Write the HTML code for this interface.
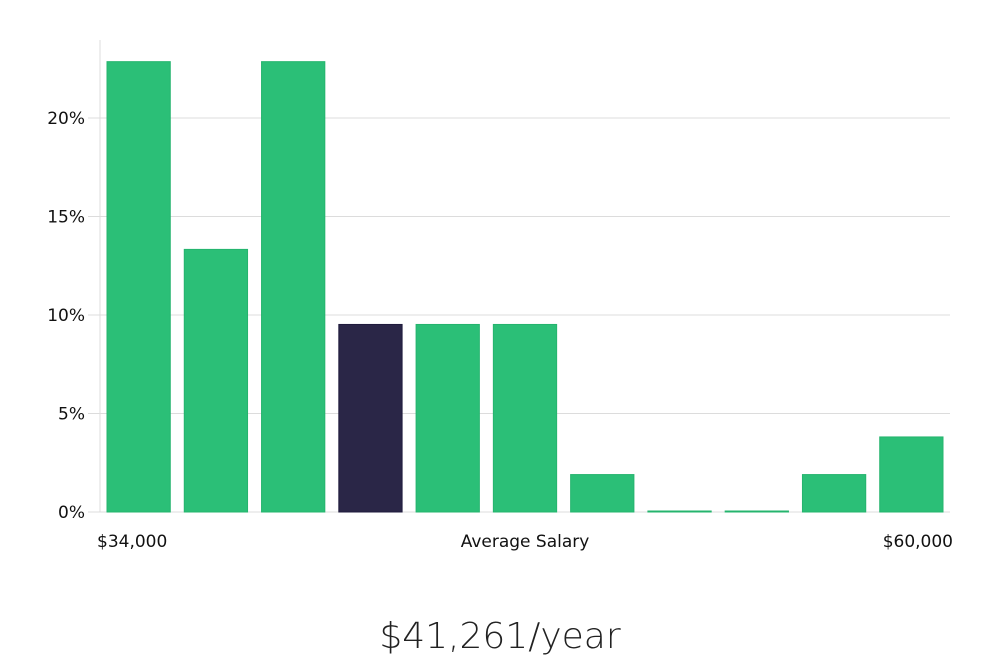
<!DOCTYPE html>
<html><head><meta charset="utf-8"><style>
html,body{margin:0;padding:0;background:#fff;}
svg text{font-family:"DejaVu Sans","Liberation Sans",sans-serif;}
</style></head><body>
<svg width="1000" height="660" viewBox="0 0 1000 660">
<g id="grid"></g>
<g id="bars"></g>
<g id="axes"></g>
<text x="500" y="648" text-anchor="middle" font-size="36" fill="#222" font-weight="300">$41,261/year</text>
</svg>
<script>
const categories = ["b1","b2","b3","b4","b5","b6","b7","b8","b9","b10","b11"];
const values = [22.86,13.33,22.86,9.52,9.52,9.52,1.9,0,0,1.9,3.81];
const highlight = [false,false,false,true,false,false,false,false,false,false,false];
const yTicks = [0,5,10,15,20];
const yTickLabels = ["0%","5%","10%","15%","20%"];
const xLabels = ["$34,000","Average Salary","$60,000"];
const NS="http://www.w3.org/2000/svg";
const L=100,R=950,B=512,T=40,pxPer5=98.5;
function y(v){return B - v/5*pxPer5;}
const band=(R-L)/categories.length;
function x(i){return L+i*band;}
function mk(tag,attrs,parent){const e=document.createElementNS(NS,tag);for(const k in attrs)e.setAttribute(k,attrs[k]);parent.appendChild(e);return e;}
const grid=document.getElementById('grid'),bars=document.getElementById('bars'),axes=document.getElementById('axes');
yTicks.forEach((t,i)=>{
  const g=mk('line',{x1:88,x2:R,y1:y(t),y2:y(t),stroke:'#dcdcdc','stroke-width':1},grid);
  
  
  const tx=mk('text',{x:85,y:y(t)+6,'text-anchor':'end','font-size':17,fill:'#111'},axes);
  tx.textContent=yTickLabels[i];
  
  
});
const ax=mk('line',{x1:L,x2:L,y1:T,y2:B,stroke:'#dcdcdc','stroke-width':1},axes);


values.forEach((v,i)=>{
  const h=Math.max(B-y(v),1);
  const r=mk('rect',{x:x(i)+7,y:B-h,width:band-14,height:h,fill:highlight[i]?'#2a2647':'#2bbf77',stroke:highlight[i]?'#1f1b3d':'#25b46e','stroke-width':1},bars);
  
  
});
const xl=[[97,'start'],[525,'middle'],[953,'end']];
xLabels.forEach((s,i)=>{
  const t=mk('text',{x:xl[i][0],y:547,'text-anchor':xl[i][1],'font-size':17,fill:'#111'},axes);
  t.textContent=s;
  
  
});
</script>
</body></html>
